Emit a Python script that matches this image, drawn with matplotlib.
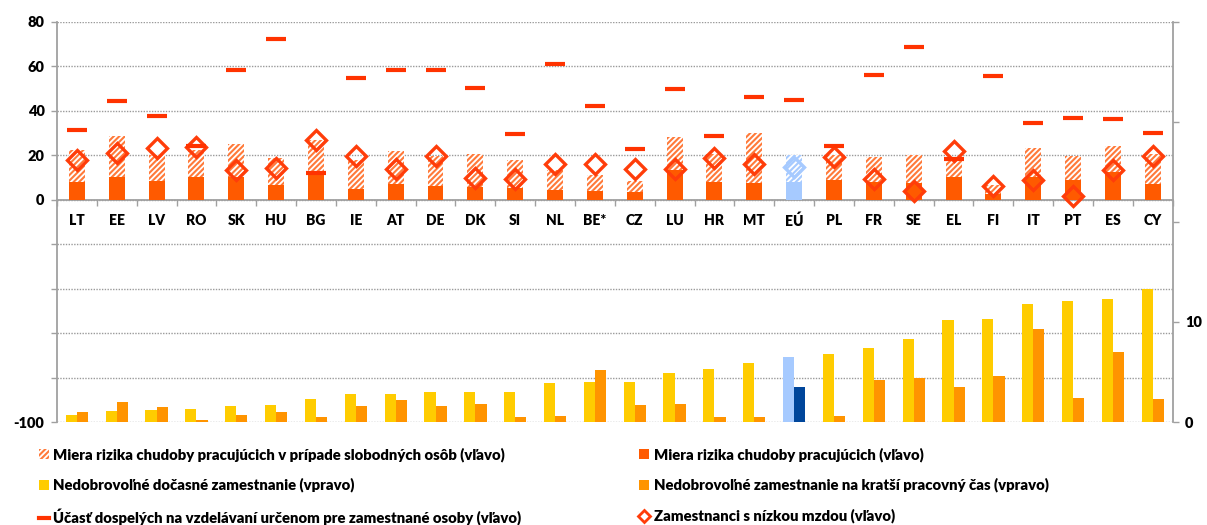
import matplotlib.pyplot as plt
from matplotlib.patches import Patch
from matplotlib.lines import Line2D
import numpy as np

plt.rcParams['font.family'] = ['Lato', 'DejaVu Sans']
plt.rcParams['font.weight'] = 'heavy'
plt.rcParams['hatch.linewidth'] = 1.5

countries = ["LT", "EE", "LV", "RO", "SK", "HU", "BG", "IE", "AT", "DE", "DK", "SI", "NL", "BE*",
             "CZ", "LU", "HR", "MT", "EÚ", "PL", "FR", "SE", "EL", "FI", "IT", "PT", "ES", "CY"]

# left axis (%)
poverty_single = [22.5, 28.4, 20.0, 22.5, 24.9, 18.9, 26.7, 18.0, 21.8, 19.5, 20.7, 17.9, 13.2, 11.0,
                  8.3, 28.1, 20.7, 29.9, 20.0, 20.0, 19.1, 20.0, 19.0, 6.5, 23.1, 19.7, 24.2, 20.3]
poverty = [8.0, 10.2, 8.3, 10.4, 10.2, 6.8, 12.0, 4.8, 7.2, 6.2, 5.7, 5.3, 4.2, 3.9,
           3.5, 13.2, 8.0, 7.5, 8.0, 8.7, 8.0, 7.5, 10.2, 2.7, 10.2, 8.7, 12.5, 7.2]
adult_learning = [31.4, 44.4, 37.7, 24.0, 58.4, 72.4, 12.0, 54.8, 58.4, 58.4, 50.3, 29.6, 60.8, 42.2,
                  22.8, 49.8, 28.7, 46.2, 44.9, 24.2, 56.2, 68.8, 18.2, 55.6, 34.5, 36.8, 36.3, 30.0]
low_wage = [17.7, 21.0, 23.3, 23.7, 13.2, 14.3, 27.0, 19.8, 14.0, 19.7, 9.8, 9.2, 16.2, 15.9,
            13.7, 14.0, 18.6, 15.9, 14.7, 19.2, 9.5, 3.8, 21.8, 6.3, 8.7, 1.5, 13.2, 19.8]

# right axis (%)
temp_invol = [0.7, 1.07, 1.2, 1.27, 1.6, 1.7, 2.27, 2.77, 2.8, 3.0, 3.0, 3.0, 3.9, 4.0,
              4.0, 4.9, 5.33, 5.9, 6.47, 6.8, 7.4, 8.3, 10.2, 10.3, 11.8, 12.1, 12.3, 13.33]
part_invol = [1.0, 2.0, 1.5, 0.17, 0.7, 1.0, 0.47, 1.57, 2.2, 1.6, 1.8, 0.47, 0.6, 5.2,
              1.7, 1.8, 0.47, 0.47, 3.47, 0.57, 4.17, 4.43, 3.5, 4.6, 9.3, 2.4, 7.0, 2.27]

labels = ["Miera rizika chudoby pracujúcich v prípade slobodných osôb (vľavo)",
          "Nedobrovoľné dočasné zamestnanie (vpravo)",
          "Účasť dospelých na vzdelávaní určenom pre zamestnané osoby (vľavo)",
          "Miera rizika chudoby pracujúcich (vľavo)",
          "Nedobrovoľné zamestnanie na kratší pracovný čas (vpravo)",
          "Zamestnanci s nízkou mzdou (vľavo)"]

c_solid = '#FF5A00'
c_hatch = '#FF7A3A'
c_dash = '#FF3300'
c_diam = '#FF3D0A'
c_yellow = '#FFCC00'
c_orange = '#FF9400'
c_lblue = '#A6CAFF'
c_dblue = '#00469B'

x = np.arange(len(countries))
eu = countries.index("EÚ")

solid_cols = [c_lblue if i == eu else c_solid for i in x]
hatch_cols = [c_lblue if i == eu else c_hatch for i in x]
diam_cols = [c_lblue if i == eu else c_diam for i in x]
yel_cols = [c_lblue if i == eu else c_yellow for i in x]
org_cols = [c_dblue if i == eu else c_orange for i in x]

fig = plt.figure(figsize=(12.07, 5.25), dpi=100)
ax = fig.add_axes([0.0472, 0.196, 0.9244, 0.7627])

ax.bar(x, poverty_single, width=0.4, color='white', edgecolor=hatch_cols, hatch='//////', linewidth=0, zorder=2)
ax.bar(x, poverty, width=0.4, color=solid_cols, linewidth=0, zorder=3)
for i in x:
    ax.plot(i, low_wage[i], marker='D', ms=10.5, mfc='none', mec=diam_cols[i], mew=2.4, zorder=4)
ax.plot(x, adult_learning, ls='none', marker='_', ms=14.5, mew=3, color=c_dash, zorder=5)

ax.set_xlim(-0.5, len(countries) - 0.5)
ax.set_ylim(-100, 80)
yt = [-100, -80, -60, -40, -20, 0, 20, 40, 60, 80]
ax.set_yticks(yt)
ax.set_yticklabels(['-100', '', '', '', '', '0', '20', '40', '60', '80'])
ax.yaxis.grid(True, linestyle=(0, (1, 1)), color='#9A9A9A', lw=1)
ax.set_axisbelow(True)

ax.spines['bottom'].set_position(('data', 0))
ax.spines['bottom'].set_color('#A0A0A0')
ax.spines['bottom'].set_linewidth(1.3)
ax.spines['left'].set_color('#A0A0A0')
ax.spines['left'].set_linewidth(1.3)
ax.spines['top'].set_visible(False)
ax.spines['right'].set_visible(False)

ax.set_xticks(x)
ax.set_xticklabels(countries)
ax.set_xticks(np.arange(-0.5, len(countries), 1), minor=True)
ax.tick_params(axis='x', which='major', length=0, pad=10, labelsize=10)
ax.tick_params(axis='x', which='minor', length=4, color='#A0A0A0', width=1)
ax.tick_params(axis='y', length=4, color='#A0A0A0', width=1, pad=5, labelsize=10.5)

ax2 = ax.twinx()
ax2.bar(x - 0.14, temp_invol, width=0.28, color=yel_cols, linewidth=0)
ax2.bar(x + 0.14, part_invol, width=0.28, color=org_cols, linewidth=0)
ax2.set_ylim(0, 40)
ax2.set_yticks([0, 10, 20, 30, 40])
ax2.set_yticklabels(['0', '10', '', '', ''])
ax2.tick_params(axis='y', length=4, color='#A0A0A0', width=1, pad=5, labelsize=10.5)
for s in ['left', 'top', 'bottom']:
    ax2.spines[s].set_visible(False)
ax2.spines['right'].set_color('#A0A0A0')
ax2.spines['right'].set_linewidth(1.3)

handles = [Patch(facecolor='white', edgecolor=c_hatch, hatch='//////', linewidth=0),
           Patch(facecolor=c_yellow),
           Line2D([], [], color=c_dash, lw=3),
           Patch(facecolor=c_solid),
           Patch(facecolor=c_orange),
           Line2D([], [], ls='none', marker='D', ms=6.5, mfc='none', mec=c_diam, mew=2)]
fig.legend(handles, labels, ncol=2, loc='upper left', bbox_to_anchor=(0.027, 0.16),
           frameon=False, fontsize=10.7, handlelength=0.7, handleheight=0.7,
           handletextpad=0.3, columnspacing=7.9, labelspacing=1.1, borderaxespad=0)

fig.savefig('out.png', dpi=100)
